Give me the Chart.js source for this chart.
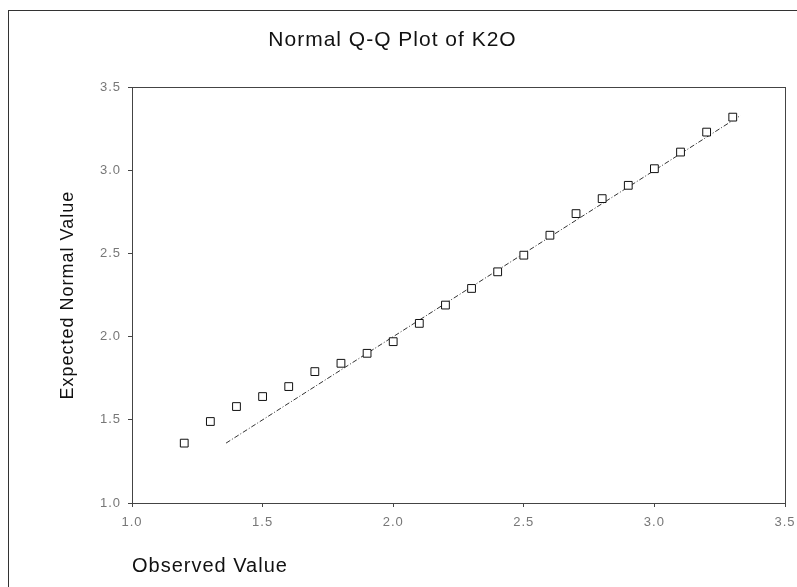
<!DOCTYPE html>
<html>
<head>
<meta charset="utf-8">
<script src="https://cdn.jsdelivr.net/npm/chart.js@4"></script>
<style>
  html, body { margin: 0; padding: 0; background: #fff; }
  #wrap { position: relative; width: 797px; height: 587px; }
  #frame {
    position: absolute; left: 8px; top: 10px; right: 0; bottom: 0;
    border-top: 1px solid #333; border-left: 1px solid #333;
    pointer-events: none;
  }
</style>
</head>
<body>
<div id="wrap">
  <canvas id="qqChart" width="797" height="587"></canvas>
  <div id="frame"></div>
</div>
<script>
// ---- data ----
const observed = [1.2, 1.3, 1.4, 1.5, 1.6, 1.7, 1.8, 1.9, 2.0, 2.1, 2.2,
                  2.3, 2.4, 2.5, 2.6, 2.7, 2.8, 2.9, 3.0, 3.1, 3.2, 3.3];
const expected = [1.36, 1.49, 1.58, 1.64, 1.70, 1.79, 1.84, 1.90, 1.97, 2.08, 2.19,
                  2.29, 2.39, 2.49, 2.61, 2.74, 2.83, 2.91, 3.01, 3.11, 3.23, 3.32];

// reference line y = x
const refX = [1.36, 3.33];
const refY = [1.36, 3.33];

const xTicks = ["1.0", "1.5", "2.0", "2.5", "3.0", "3.5"];
const yTicks = ["1.0", "1.5", "2.0", "2.5", "3.0", "3.5"];

const FONT = "'Liberation Sans', Arial, sans-serif";
const toPts = (xs, ys) => xs.map((x, i) => ({ x, y: ys[i] }));
const tickNums = (labels) => labels.map(Number);

// fixed tick positions from the label lists
const useTicks = (labels) => (scale) => {
  scale.ticks = tickNums(labels).map((v) => ({ value: v }));
};

// frame around the plot area + slightly spaced lettering
const plotFrame = {
  id: "plotFrame",
  beforeUpdate(chart) { chart.ctx.letterSpacing = "1px"; },
  beforeDraw(chart) { chart.ctx.letterSpacing = "1px"; },
  afterDraw(chart) {
    const { ctx, chartArea: a } = chart;
    ctx.save();
    ctx.strokeStyle = "#444";
    ctx.lineWidth = 1;
    ctx.strokeRect(Math.round(a.left) + 0.5, Math.round(a.top) + 0.5,
                   Math.round(a.right - a.left), Math.round(a.bottom - a.top));
    ctx.restore();
  }
};

new Chart(document.getElementById("qqChart"), {
  type: "scatter",
  data: {
    datasets: [
      {
        label: "K2O",
        data: toPts(observed, expected),
        pointStyle: "rect",
        pointRadius: 5.5,
        pointBorderWidth: 1,
        pointBorderColor: "#111",
        pointBackgroundColor: "#fff",
        showLine: false
      },
      {
        label: "Normal",
        data: toPts(refX, refY),
        showLine: true,
        borderColor: "#333",
        borderWidth: 1,
        borderDash: [5, 2, 1, 2],
        pointRadius: 0,
        order: 1
      }
    ]
  },
  options: {
    responsive: false,
    animation: false,
    layout: { padding: { left: 0, right: 12, top: 0, bottom: 0 } },
    plugins: {
      legend: { display: false },
      tooltip: { enabled: false },
      title: {
        display: true,
        text: "Normal Q-Q Plot of K2O",
        color: "#111",
        font: { family: FONT, size: 21, weight: "normal" },
        padding: { top: 28, bottom: 34 }
      }
    },
    scales: {
      x: {
        type: "linear",
        min: tickNums(xTicks)[0],
        max: tickNums(xTicks)[xTicks.length - 1],
        afterBuildTicks: useTicks(xTicks),
        afterFit: (s) => { s.height = 84; s.paddingLeft = 0; s.paddingRight = 0; },
        grid: { display: true, drawOnChartArea: false, drawTicks: true, tickLength: 4, color: "#444" },
        border: { display: true, color: "#444" },
        ticks: {
          padding: 8,
          color: "#777",
          font: { family: FONT, size: 13 },
          callback: (v) => xTicks[tickNums(xTicks).indexOf(v)] ?? ""
        },
        title: {
          display: true,
          text: "Observed Value",
          align: "start",
          color: "#111",
          font: { family: FONT, size: 20 },
          padding: { top: 0, bottom: 9 }
        }
      },
      y: {
        type: "linear",
        min: tickNums(yTicks)[0],
        max: tickNums(yTicks)[yTicks.length - 1],
        afterBuildTicks: useTicks(yTicks),
        afterFit: (s) => { s.width = 132; },
        grid: { display: true, drawOnChartArea: false, drawTicks: true, tickLength: 4, color: "#444" },
        border: { display: true, color: "#444" },
        ticks: {
          padding: 7,
          color: "#777",
          font: { family: FONT, size: 13 },
          callback: (v) => yTicks[tickNums(yTicks).indexOf(v)] ?? ""
        },
        title: {
          display: true,
          text: "Expected Normal Value",
          color: "#111",
          font: { family: FONT, size: 18 },
          padding: { top: 57, bottom: 0 }
        }
      }
    }
  },
  plugins: [plotFrame]
});
</script>
</body>
</html>
